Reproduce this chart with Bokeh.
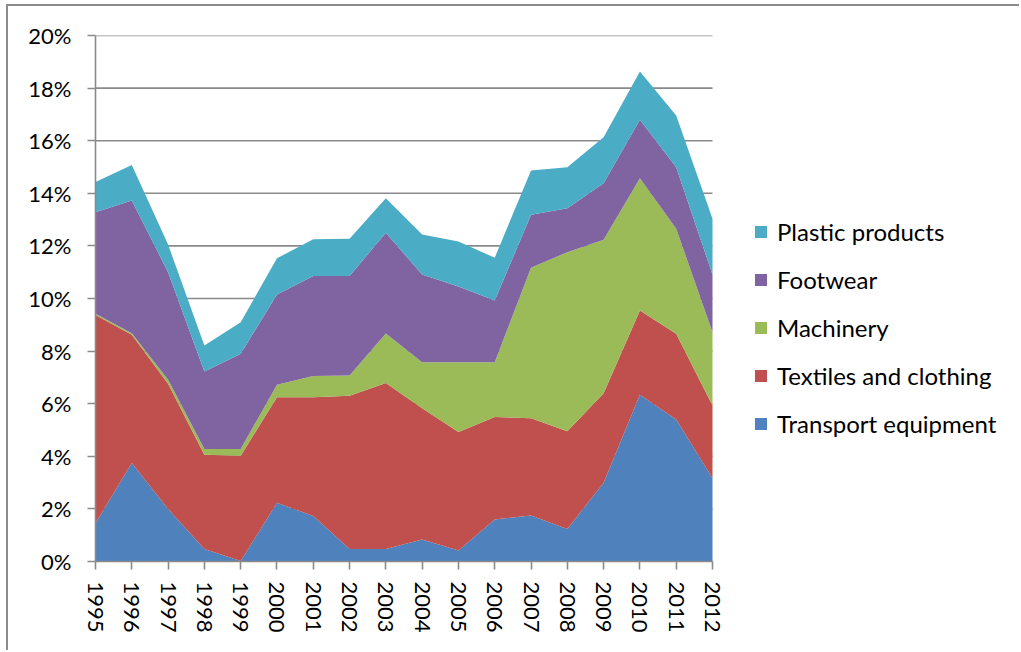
from bokeh.plotting import figure
from bokeh.models import ColumnDataSource, FixedTicker, PrintfTickFormatter, Legend, LegendItem, Range1d
from bokeh.embed import file_html
from bokeh.resources import INLINE

years = list(range(1995, 2013))
series_names = ["Transport equipment", "Textiles and clothing", "Machinery", "Footwear", "Plastic products"]
transport = [1.45, 3.75, 2.00, 0.48, 0.02, 2.23, 1.73, 0.48, 0.48, 0.84, 0.42, 1.60, 1.75, 1.24, 2.99, 6.34, 5.40, 3.17]
textiles = [7.92, 4.87, 4.76, 3.58, 4.00, 4.02, 4.52, 5.82, 6.31, 4.99, 4.50, 3.89, 3.70, 3.71, 3.41, 3.20, 3.26, 2.76]
machinery = [0.05, 0.06, 0.15, 0.22, 0.26, 0.47, 0.80, 0.77, 1.88, 1.75, 2.66, 2.09, 5.72, 6.81, 5.83, 5.03, 3.99, 2.79]
footwear = [3.86, 5.05, 4.09, 2.94, 3.62, 3.43, 3.81, 3.79, 3.83, 3.33, 2.88, 2.34, 2.01, 1.67, 2.15, 2.23, 2.34, 2.19]
plastic = [1.15, 1.35, 1.05, 0.99, 1.20, 1.38, 1.39, 1.41, 1.31, 1.52, 1.71, 1.63, 1.69, 1.56, 1.75, 1.83, 1.97, 2.12]
y_ticks = [0, 2, 4, 6, 8, 10, 12, 14, 16, 18, 20]
colors = ["#4F81BD", "#C0504D", "#9BBB59", "#8064A2", "#4BACC6"]

keys = ["transport", "textiles", "machinery", "footwear", "plastic"]
src = ColumnDataSource(dict(year=years, transport=transport, textiles=textiles,
                            machinery=machinery, footwear=footwear, plastic=plastic))

# layout (pixels)
FIG_W, FIG_H = 1013, 646
LEFT, TOP, BOTTOM = 87, 29, 91
PLOT_W = 617                       # width of the 1995..2012 span
frame_w = FIG_W - LEFT             # frame runs to the right edge; legend lives inside it
x_end = years[0] + (years[-1] - years[0]) * frame_w / PLOT_W

FONT = "Lato"
GRID = "#8a8a8a"
p = figure(width=FIG_W, height=FIG_H, output_backend="svg", toolbar_location=None,
           x_range=Range1d(years[0], x_end), y_range=Range1d(y_ticks[0], y_ticks[-1]),
           min_border_left=LEFT, min_border_right=0, min_border_top=TOP, min_border_bottom=BOTTOM)
# outer chart border on top and left only (the reference's frame is cropped at right/bottom)
p.styles = {"box-shadow": "-2px -2px 0 0 #8c8c8c", "margin-left": "8px", "margin-top": "6px"}
p.outline_line_color = None
p.background_fill_color = "white"
p.border_fill_color = "white"

# horizontal gridlines limited to the data span
grid = p.segment(x0=[years[0]] * len(y_ticks), x1=[years[-1]] * len(y_ticks),
                 y0=y_ticks, y1=y_ticks, line_color=GRID, line_width=1.6)
grid.level = "underlay"

renderers = p.varea_stack(stackers=keys, x="year", color=colors, source=src)

# x axis line limited to data span
xline = p.segment(x0=[years[0]], x1=[years[-1]], y0=[0], y1=[0], line_color=GRID, line_width=1.6)
xline.level = "overlay"

p.xgrid.grid_line_color = None
p.ygrid.grid_line_color = None

# y axis
p.yaxis.ticker = FixedTicker(ticks=y_ticks)
p.yaxis.formatter = PrintfTickFormatter(format="%d%%")
p.yaxis.axis_line_color = GRID
p.yaxis.axis_line_width = 1.6
p.yaxis.major_tick_line_color = GRID
p.yaxis.major_tick_line_width = 1.6
p.yaxis.major_tick_out = 8
p.yaxis.major_tick_in = 0
p.yaxis.minor_tick_line_color = None
p.yaxis.major_label_text_font = FONT
p.yaxis.major_label_text_font_size = "22px"
p.yaxis.major_label_text_color = "black"
p.yaxis.major_label_standoff = 16

# x axis
p.xaxis.ticker = FixedTicker(ticks=years)
p.xaxis.axis_line_color = None
p.xaxis.major_tick_line_color = GRID
p.xaxis.major_tick_line_width = 1.6
p.xaxis.major_tick_out = 8
p.xaxis.major_tick_in = 0
p.xaxis.minor_tick_line_color = None
p.xaxis.major_label_orientation = "vertical"
p.xaxis.major_label_text_font = FONT
p.xaxis.major_label_text_font_size = "22px"
p.xaxis.major_label_text_color = "black"
p.xaxis.major_label_standoff = 12

items = [LegendItem(label=series_names[i], renderers=[renderers[i]]) for i in range(4, -1, -1)]
legend = Legend(items=items, location=(658, 123), padding=0, margin=0,
                border_line_color=None, background_fill_alpha=0,
                glyph_width=15, glyph_height=15, label_height=15,
                spacing=19, label_standoff=9,
                label_text_font=FONT, label_text_font_size="24px", label_text_color="black")
p.add_layout(legend)

open("out.html", "w").write(file_html(p, INLINE))
